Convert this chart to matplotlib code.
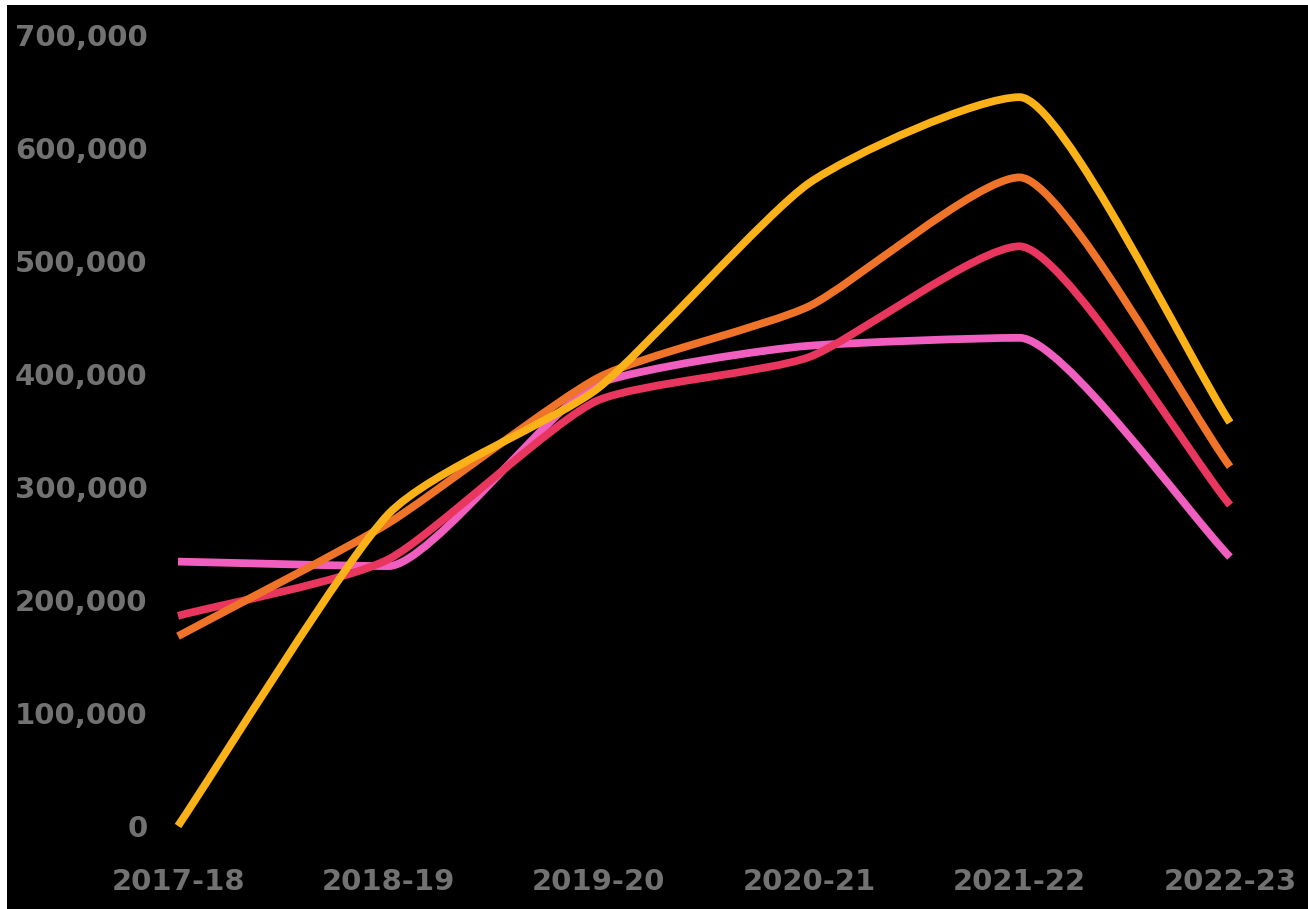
import numpy as np
import matplotlib
matplotlib.use("Agg")
import matplotlib.pyplot as plt
from matplotlib.path import Path
from matplotlib.patches import PathPatch, Rectangle

# data
years = ["2017-18", "2018-19", "2019-20", "2020-21", "2021-22", "2022-23"]
pink = [234000, 230000, 392000, 425000, 432000, 238000]
red = [186000, 236000, 377000, 415000, 513000, 284000]
orange = [168000, 268000, 397000, 460000, 574000, 318000]
yellow = [0, 276000, 388000, 569000, 645000, 357000]

colors = {"pink": "#F05EC0", "red": "#E8365F", "orange": "#EF7429", "yellow": "#FBB218"}
tick_color = "#727272"


def smooth_path(xs, ys, handle=0.2):
    # monotone tangents, short bezier handles -> nearly straight runs, rounded joints
    xs = np.asarray(xs, float)
    ys = np.asarray(ys, float)
    n = len(xs)
    h = np.diff(xs)
    s = np.diff(ys) / h
    m = np.zeros(n)
    for i in range(1, n - 1):
        p = (s[i - 1] * h[i] + s[i] * h[i - 1]) / (h[i - 1] + h[i])
        m[i] = (np.sign(s[i - 1]) + np.sign(s[i])) * min(abs(s[i - 1]), abs(s[i]), 0.5 * abs(p))
    m[0] = s[0]
    m[-1] = s[-1]

    verts = [(xs[0], ys[0])]
    codes = [Path.MOVETO]
    for i in range(n - 1):
        d = h[i] * handle
        verts += [(xs[i] + d, ys[i] + m[i] * d),
                  (xs[i + 1] - d, ys[i + 1] - m[i + 1] * d),
                  (xs[i + 1], ys[i + 1])]
        codes += [Path.CURVE4] * 3
    return Path(verts, codes)


W, H = 1308, 909
fig = plt.figure(figsize=(W / 100, H / 100), dpi=100, facecolor="white")
# black canvas, thin white strip on top and left like the screenshot
fig.patches.append(Rectangle((7 / W, 0), 1, 1 - 5 / H, transform=fig.transFigure,
                             facecolor="black", edgecolor="none", zorder=-10))

x0, x1 = 178, 1230
y0, y1 = 826, 35
ax = fig.add_axes([x0 / W, (H - y0) / H, (x1 - x0) / W, (y0 - y1) / H])
ax.set_facecolor("none")
ax.set_xlim(0, len(years) - 1)
ax.set_ylim(0, 700000)

x = np.arange(len(years))
for name, vals in [("pink", pink), ("red", red), ("orange", orange), ("yellow", yellow)]:
    patch = PathPatch(smooth_path(x, vals), facecolor="none", edgecolor=colors[name],
                      linewidth=5.6, capstyle="butt", joinstyle="round", clip_on=False)
    ax.add_patch(patch)

ax.set_xticks(x)
ax.set_xticklabels(years)
yt = np.arange(0, 700001, 100000)
ax.set_yticks(yt)
ax.set_yticklabels(["{:,}".format(v) for v in yt])

for lab in ax.get_xticklabels() + ax.get_yticklabels():
    lab.set_fontsize(21)
    lab.set_fontweight("bold")
    lab.set_color(tick_color)

ax.tick_params(axis="both", length=0)
ax.tick_params(axis="y", pad=22)
ax.tick_params(axis="x", pad=30)
for sp in ax.spines.values():
    sp.set_visible(False)

fig.savefig("out.png", dpi=100, facecolor=fig.get_facecolor())
